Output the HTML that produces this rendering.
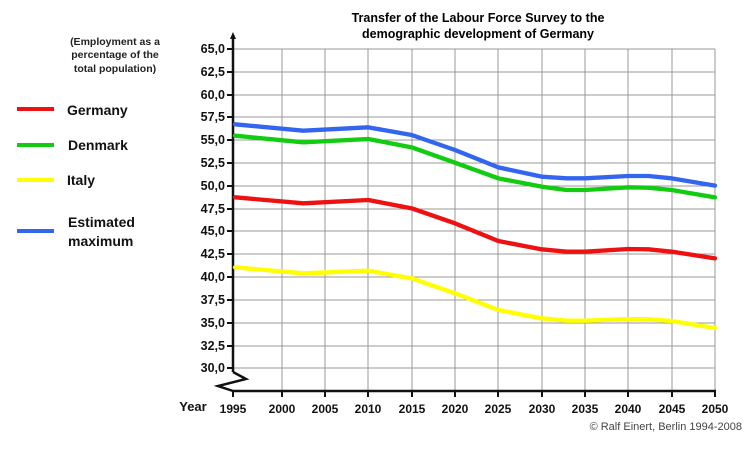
<!DOCTYPE html>
<html><head><style>
body{margin:0;background:#fff;}
svg{display:block;font-family:"Liberation Sans",Arial,sans-serif;}
</style></head><body>
<svg width="750" height="450" viewBox="0 0 750 450">
<rect width="750" height="450" fill="#fff"/>
<text x="478" y="22" font-size="12.5" font-weight="bold" text-anchor="middle">Transfer of the Labour Force Survey to the</text>
<text x="478" y="38" font-size="12.5" font-weight="bold" text-anchor="middle">demographic development of Germany</text>
<g font-size="10.5" font-weight="bold" text-anchor="middle" fill="#222">
<text x="115" y="45">(Employment as a</text>
<text x="115" y="58">percentage of the</text>
<text x="115" y="72">total population)</text>
</g>
<g stroke-width="4">
<line x1="17" y1="109" x2="54" y2="109" stroke="#ee1111"/>
<line x1="17" y1="145" x2="54" y2="145" stroke="#11cc11"/>
<line x1="17" y1="180" x2="54" y2="180" stroke="#ffff00"/>
<line x1="17" y1="231" x2="54" y2="231" stroke="#3366ee"/>
</g>
<g font-size="14" font-weight="bold" fill="#111">
<text x="67" y="115">Germany</text>
<text x="68" y="150">Denmark</text>
<text x="67" y="185">Italy</text>
<text x="68" y="227">Estimated</text>
<text x="68" y="246">maximum</text>
</g>
<g stroke="#888" stroke-width="1" id="grid"></g>
<g stroke="#999" stroke-width="1">
<line x1="233" y1="49" x2="715" y2="49"/><line x1="233" y1="72" x2="715" y2="72"/>
<line x1="233" y1="95" x2="715" y2="95"/><line x1="233" y1="117" x2="715" y2="117"/>
<line x1="233" y1="140" x2="715" y2="140"/><line x1="233" y1="163" x2="715" y2="163"/>
<line x1="233" y1="186" x2="715" y2="186"/><line x1="233" y1="209" x2="715" y2="209"/>
<line x1="233" y1="231" x2="715" y2="231"/><line x1="233" y1="254" x2="715" y2="254"/>
<line x1="233" y1="277" x2="715" y2="277"/><line x1="233" y1="300" x2="715" y2="300"/>
<line x1="233" y1="323" x2="715" y2="323"/><line x1="233" y1="346" x2="715" y2="346"/>
<line x1="233" y1="368" x2="715" y2="368"/>
<line x1="282" y1="49" x2="282" y2="391"/><line x1="325" y1="49" x2="325" y2="391"/>
<line x1="368" y1="49" x2="368" y2="391"/><line x1="412" y1="49" x2="412" y2="391"/>
<line x1="455" y1="49" x2="455" y2="391"/><line x1="498" y1="49" x2="498" y2="391"/>
<line x1="542" y1="49" x2="542" y2="391"/><line x1="585" y1="49" x2="585" y2="391"/>
<line x1="628" y1="49" x2="628" y2="391"/><line x1="672" y1="49" x2="672" y2="391"/>
<line x1="715" y1="49" x2="715" y2="391"/>
</g>
<g stroke="#111" stroke-width="2.5" fill="none">
<line x1="233" y1="36" x2="233" y2="372"/>
<polyline points="233,372 246,379 218,386 233,391 233,391"/>
<line x1="232" y1="391" x2="716" y2="391"/>
</g>
<polygon points="233,32 230,39 236,39" fill="#111"/>
<g stroke="#111" stroke-width="2">
<line x1="227" y1="49" x2="233" y2="49"/><line x1="227" y1="72" x2="233" y2="72"/>
<line x1="227" y1="95" x2="233" y2="95"/><line x1="227" y1="117" x2="233" y2="117"/>
<line x1="227" y1="140" x2="233" y2="140"/><line x1="227" y1="163" x2="233" y2="163"/>
<line x1="227" y1="186" x2="233" y2="186"/><line x1="227" y1="209" x2="233" y2="209"/>
<line x1="227" y1="231" x2="233" y2="231"/><line x1="227" y1="254" x2="233" y2="254"/>
<line x1="227" y1="277" x2="233" y2="277"/><line x1="227" y1="300" x2="233" y2="300"/>
<line x1="227" y1="323" x2="233" y2="323"/><line x1="227" y1="346" x2="233" y2="346"/>
<line x1="227" y1="368" x2="233" y2="368"/>
<line x1="233" y1="391" x2="233" y2="397"/><line x1="282" y1="391" x2="282" y2="397"/>
<line x1="325" y1="391" x2="325" y2="397"/><line x1="368" y1="391" x2="368" y2="397"/>
<line x1="412" y1="391" x2="412" y2="397"/><line x1="455" y1="391" x2="455" y2="397"/>
<line x1="498" y1="391" x2="498" y2="397"/><line x1="542" y1="391" x2="542" y2="397"/>
<line x1="585" y1="391" x2="585" y2="397"/><line x1="628" y1="391" x2="628" y2="397"/>
<line x1="672" y1="391" x2="672" y2="397"/><line x1="715" y1="391" x2="715" y2="397"/>
</g>
<g font-size="12.5" font-weight="bold" text-anchor="end" fill="#111">
<text x="225" y="53">65,0</text><text x="225" y="76">62,5</text><text x="225" y="99">60,0</text>
<text x="225" y="121">57,5</text><text x="225" y="144">55,0</text><text x="225" y="167">52,5</text>
<text x="225" y="190">50,0</text><text x="225" y="213">47,5</text><text x="225" y="235">45,0</text>
<text x="225" y="258">42,5</text><text x="225" y="281">40,0</text><text x="225" y="304">37,5</text>
<text x="225" y="327">35,0</text><text x="225" y="350">32,5</text><text x="225" y="372">30,0</text>
</g>
<g font-size="12" font-weight="bold" text-anchor="middle" fill="#111">
<text x="193" y="411" font-size="13">Year</text>
<text x="233" y="413">1995</text><text x="282" y="413">2000</text><text x="325" y="413">2005</text>
<text x="368" y="413">2010</text><text x="412" y="413">2015</text><text x="455" y="413">2020</text>
<text x="498" y="413">2025</text><text x="542" y="413">2030</text><text x="585" y="413">2035</text>
<text x="628" y="413">2040</text><text x="672" y="413">2045</text><text x="715" y="413">2050</text>
</g>
<text x="742" y="430" font-size="11" text-anchor="end" fill="#444">© Ralf Einert, Berlin 1994-2008</text>
<g transform="translate(200,90) scale(0.33333)" fill="none" stroke-width="13" stroke-linejoin="round" stroke-linecap="round">
<polyline stroke="#3366ee" points="105,103 310,122 505,112 635,135 765,180 895,232 1025,260 1100,265 1155,265 1285,258 1345,258 1415,265 1545,287"/>
<polyline stroke="#11cc11" points="105,137 310,157 505,147 635,172 765,218 895,265 1025,290 1100,300 1155,300 1285,292 1345,293 1415,300 1545,322"/>
<polyline stroke="#ee1111" points="105,322 310,340 505,330 635,355 765,400 895,453 1025,478 1100,485 1155,485 1285,477 1345,478 1415,485 1545,505"/>
<polyline stroke="#ffff00" points="105,532 310,550 505,542 635,565 765,610 895,660 1025,685 1100,692 1155,692 1285,687 1345,688 1415,693 1545,714"/>
</g>
</svg>
</body></html>
